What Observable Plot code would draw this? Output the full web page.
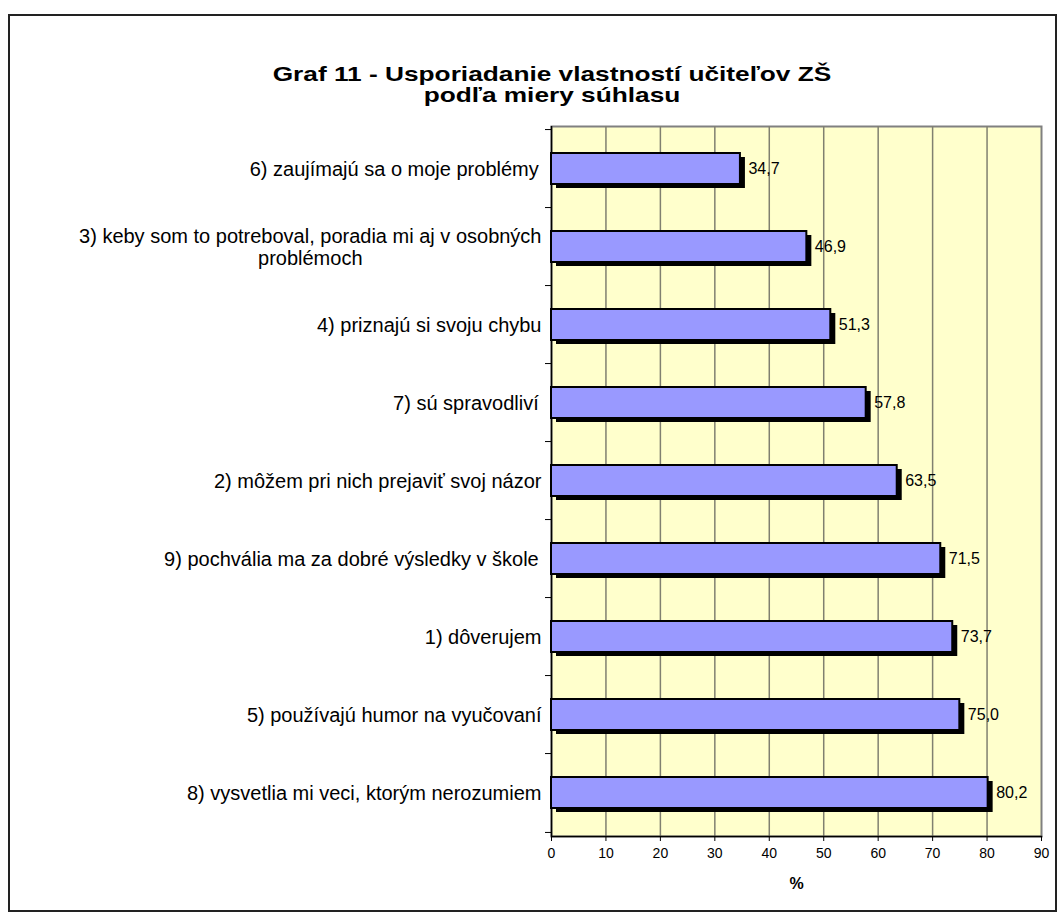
<!DOCTYPE html>
<html><head><meta charset="utf-8">
<script src="https://cdn.jsdelivr.net/npm/d3@7"></script>
<script src="https://cdn.jsdelivr.net/npm/@observablehq/plot@0.6"></script>
<style>
body{margin:0;background:#fff;font-family:"Liberation Sans",Arial,sans-serif}
#wrap{position:relative;width:1064px;height:919px;overflow:hidden}
#border{position:absolute;left:8px;top:14px;width:1049px;height:898px;box-sizing:border-box;border:2px solid #222}
#title{position:absolute;left:0;width:1104px;top:63px;text-align:center;font-weight:bold;font-size:21px;line-height:21px;color:#000;transform:scaleX(1.25);transform-origin:552px 0}
#chart{position:absolute;left:0;top:0}
</style></head>
<body><div id="wrap"><div id="border"></div><div id="title"></div><div id="chart"></div></div>
<script>
const titleLines = ["Graf 11 - Usporiadanie vlastností učiteľov ZŠ", "podľa miery súhlasu"];
const labels = [
  "6) zaujímajú sa o moje problémy ",
  "3) keby som to potreboval, poradia mi aj v osobných\nproblémoch",
  "4) priznajú si svoju chybu",
  "7) sú spravodliví ",
  "2) môžem pri nich prejaviť svoj názor",
  "9) pochvália ma za dobré výsledky v škole ",
  "1) dôverujem",
  "5) používajú humor na vyučovaní",
  "8) vysvetlia mi veci, ktorým nerozumiem"
];
const values = [34.7, 46.9, 51.3, 57.8, 63.5, 71.5, 73.7, 75.0, 80.2];
const xTicks = [0, 10, 20, 30, 40, 50, 60, 70, 80, 90];
const xLabel = "%";

document.getElementById("title").innerHTML = titleLines.join("<br>");

const W = 1064, H = 919, mL = 551, mR = 23, mT = 126, mB = 83;
const step = (H - mT - mB) / labels.length;
const pxPerUnit = (W - mL - mR) / 90;
const fmt = v => d3.format(".1f")(v).replace(".", ",");
const data = labels.map((l, i) => ({label: l, value: values[i]}));

const fs = 20, gap = 10;
const ctx = document.createElement("canvas").getContext("2d");
ctx.font = `${fs}px "Liberation Sans"`;
const labelMarks = labels.map(l => {
  const lines = l.split("\n");
  const w = Math.max(...lines.map(s => ctx.measureText(s).width));
  return Plot.text([l], {
    y: d => d, x: 0,
    text: () => lines.map(s => s.trimEnd()).join("\n"),
    textAnchor: "middle", dx: -(gap + w / 2), fontSize: fs, lineHeight: 1.1, fill: "#000"
  });
});

const chart = Plot.plot({
  width: W, height: H,
  marginLeft: mL, marginRight: mR, marginTop: mT, marginBottom: mB,
  style: {fontFamily: '"Liberation Sans", Arial, sans-serif', background: "transparent", overflow: "visible", color: "#000"},
  x: {domain: [0, 90], label: null},
  y: {domain: labels, paddingInner: 0.6, paddingOuter: 0.3, axis: null},
  marks: [
    Plot.frame({fill: "#FFFFCC", stroke: "#808080", strokeWidth: 2}),
    Plot.ruleX(xTicks.slice(1, -1), {stroke: "#808070", strokeWidth: 1.5}),
    Plot.ruleX([0], {stroke: "#000", strokeWidth: 1.5}),
    Plot.frame({anchor: "bottom", stroke: "#000", strokeWidth: 1.5}),
    Plot.ruleY(labels, {y: d => d, dy: -step / 2, x1: -6 / pxPerUnit, x2: 0, stroke: "#000"}),
    Plot.ruleY(labels.slice(-1), {y: d => d, dy: step / 2, x1: -6 / pxPerUnit, x2: 0, stroke: "#000"}),
    Plot.barX(data, {x: "value", y: "label", fill: "#000", dx: 5, dy: 4}),
    Plot.barX(data, {x: "value", y: "label", fill: "#9999FF", stroke: "#000", strokeWidth: 2}),
    Plot.text(data, {x: "value", y: "label", text: d => fmt(d.value), textAnchor: "start", dx: 8, fontSize: 16, fill: "#000"}),
    Plot.axisX({ticks: xTicks, tickSize: 5, tickPadding: 7, fontSize: 14, label: null, tickFormat: d => String(d)}),
    Plot.text([xLabel], {x: 45, frameAnchor: "bottom", dy: 52, fontWeight: "bold", fontSize: 16, fill: "#000"}),
    ...labelMarks
  ]
});
document.getElementById("chart").appendChild(chart);
</script>
</body></html>
